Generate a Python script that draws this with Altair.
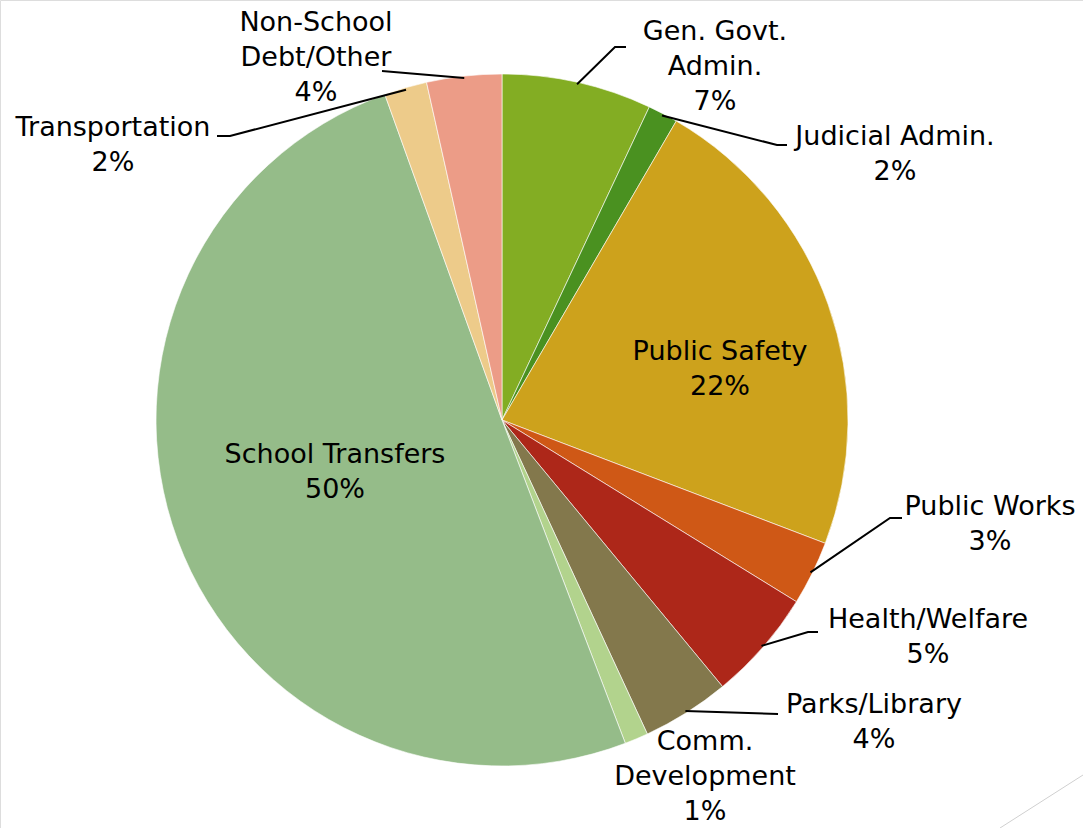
import altair as alt
import numpy as np
import pandas as pd

# ---- data ----
categories = ["Gen. Govt. Admin.", "Judicial Admin.", "Public Safety", "Public Works",
              "Health/Welfare", "Parks/Library", "Comm. Development", "School Transfers",
              "Transportation", "Non-School Debt/Other"]
values = [7.0, 1.4, 22.4, 3.0, 5.2, 4.1, 1.1, 50.3, 2.0, 3.5]
pct_labels = ["7%", "2%", "22%", "3%", "5%", "4%", "1%", "50%", "2%", "4%"]
label_text = [["Gen. Govt.", "Admin."], ["Judicial Admin."], ["Public Safety"], ["Public Works"],
              ["Health/Welfare"], ["Parks/Library"], ["Comm.", "Development"], ["School Transfers"],
              ["Transportation"], ["Non-School", "Debt/Other"]]
colors = ["#83AD23", "#4A9120", "#CDA21C", "#CF5816", "#AD2719",
          "#83784C", "#B2D38D", "#95BC89", "#EDCB8A", "#EC9C87"]

# ---- layout (pixels) ----
CX, CY, R = 502, 420, 346
LINE_H = 35
FONT = "DejaVu Sans"
FSIZE = 27
# label block centre x and first-line centre y
label_pos = [(715, 32), (895, 137), (720, 352), (990, 507), (928, 620),
             (874, 705), (705, 742), (335, 455), (113, 128), (316, 23)]
# leader line: elbow and end points (None = no leader)
leaders = [[(615, 47), (626, 47)], [(777, 145), (787, 145)], None, [(890, 518), (902, 518)],
           [(808, 632), (818, 632)], [(778, 714)], None, None,
           [(230, 136), (217, 136)], [(382, 71)]]

df = pd.DataFrame({"category": categories, "value": values, "idx": range(len(values))})

# label rows
rows = []
for i, (lines, pct) in enumerate(zip(label_text, pct_labels)):
    x0, y0 = label_pos[i]
    for j, t in enumerate(lines + [pct]):
        rows.append({"t": t, "px": x0, "py": y0 + j * LINE_H})
lab = pd.DataFrame(rows)

# leader rows: start at slice mid-angle on the rim
total = sum(values)
cum = np.cumsum([0] + values)
lrows = []
for i, pts in enumerate(leaders):
    if pts is None:
        continue
    mid = (cum[i] + cum[i + 1]) / 2 / total * 2 * np.pi
    sx, sy = CX + (R - 2) * np.sin(mid), CY - (R - 2) * np.cos(mid)
    allpts = [(sx, sy)] + pts
    for k, (x, y) in enumerate(allpts):
        lrows.append({"cat": categories[i], "k": k, "px": x, "py": y})
ldf = pd.DataFrame(lrows)

pie = alt.Chart(df).mark_arc(outerRadius=R, stroke="#ffffff", strokeWidth=0.6).encode(
    theta=alt.Theta("value:Q", stack=True),
    order=alt.Order("idx:Q"),
    color=alt.Color("category:N", scale=alt.Scale(domain=categories, range=colors), legend=None),
    x=alt.value(CX), y=alt.value(CY),
)

lines = alt.Chart(ldf).mark_line(color="#000000", strokeWidth=2).encode(
    x=alt.X("px:Q", scale=None, axis=None),
    y=alt.Y("py:Q", scale=None, axis=None),
    detail="cat:N",
    order="k:Q",
)

text = alt.Chart(lab).mark_text(font=FONT, fontSize=FSIZE, color="#000000",
                                align="center", baseline="middle").encode(
    x=alt.X("px:Q", scale=None, axis=None),
    y=alt.Y("py:Q", scale=None, axis=None),
    text="t:N",
)

deco = alt.Chart(pd.DataFrame({"a": [0]})).mark_rule(color="#d0d0d0", strokeWidth=1).encode(
    x=alt.value(1083), y=alt.value(775), x2=alt.value(1000), y2=alt.value(828))

chart = alt.layer(deco, pie, lines, text).properties(
    width=1083, height=828, padding=0, autosize="none"
).configure_view(stroke=None).configure(background="#ffffff")

chart.save("out.html", embed_options={"renderer": "svg", "actions": False})
